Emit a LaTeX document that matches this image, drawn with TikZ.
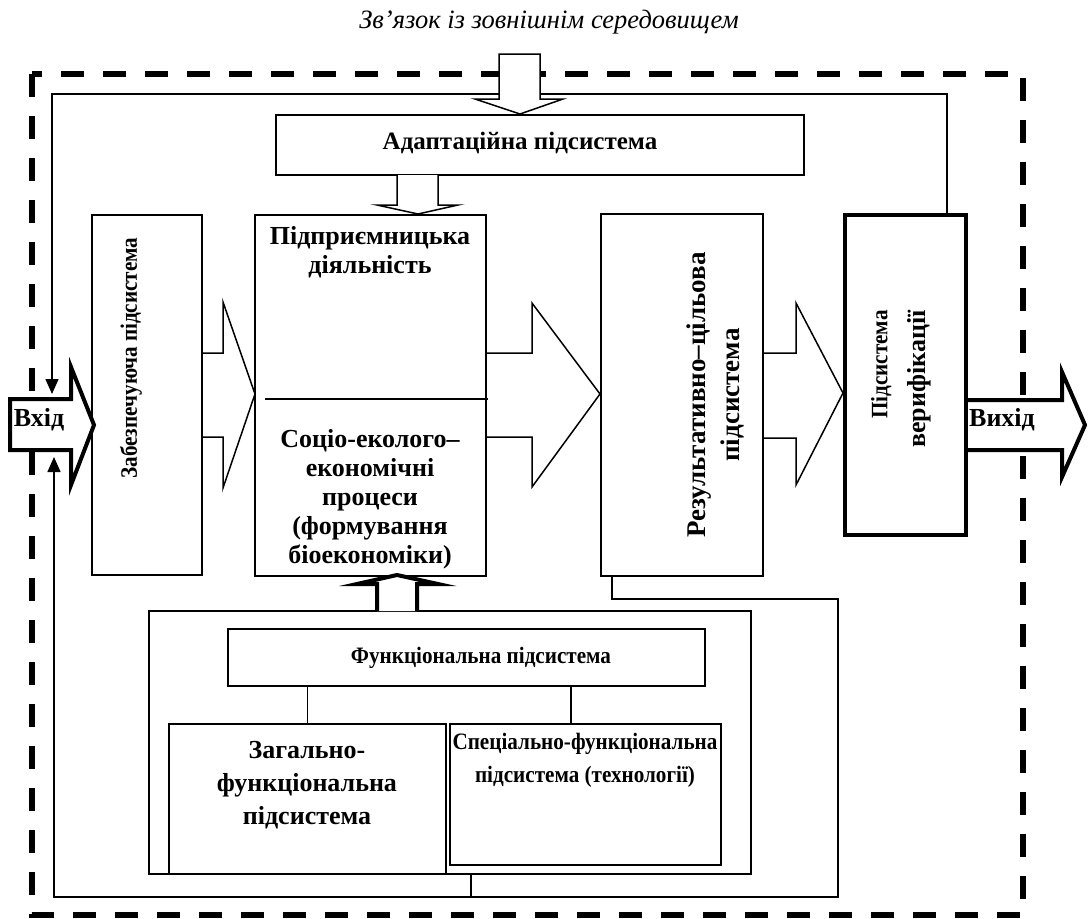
\documentclass[tikz,border=0pt]{standalone}
\usepackage{fontspec}
\usepackage{graphicx}
\setmainfont{Liberation Serif}
\usetikzlibrary{arrows.meta}
\newcommand{\narrowtxt}[1]{\scalebox{0.9}[1]{\bfseries\fontsize{23.5}{29}\selectfont #1}}

\tikzset{
  box/.style={draw, line width=1.5pt, fill=white, inner sep=0pt},
  thickbox/.style={box, line width=4pt},
  lbl/.style={font=\bfseries\fontsize{26}{29}\selectfont, align=center, inner sep=0pt},
  blk/.style={draw, line width=1.5pt, fill=white, line join=miter},
  thickblk/.style={blk, line width=4pt},
  fb/.style={line width=1.5pt, -{Triangle[width=13pt,length=15pt]}},
  env/.style={line width=6pt, dash pattern=on 23pt off 19pt},
}

\begin{document}
\begin{tikzpicture}[x=1pt, y=-1pt]
    \useasboundingbox (0,0) rectangle (1088,919);

    % environment
    \node[font=\itshape\fontsize{26.5}{30}\selectfont, inner sep=0pt] (title) at (549,22) {Зв’язок із зовнішнім середовищем};
    \draw[env] (32,74) rectangle (1023,915);

    % feedback lines
    \coordinate (inA) at (52,394);
    \coordinate (inB) at (54,457);
    \node[thickbox, minimum width=121pt, minimum height=320pt] (verif) at (905.5,375) {};
    \node[box, minimum width=162pt, minimum height=362pt] (rez) at (682,395) {};
    \node[box, minimum width=602pt, minimum height=263pt] (funcout) at (450,742.5) {};
    \draw[fb] ([xshift=41.5pt]verif.north) |- (52,94) -- (inA);
    \draw[fb] ([xshift=-70pt]rez.south) -- ++(0,22) -| (838,897) -| (inB);
    \draw[line width=1.5pt] ([xshift=21pt]funcout.south) -- ++(0,23);

    % block arrows between the main subsystems
    \draw[blk] (202,353) -- (223,353) -- (223,302) -- (255,394) -- (223,488) -- (223,437) -- (202,437);
    \draw[blk] (486,353) -- (532,353) -- (532,303) -- (600,394) -- (532,487) -- (532,437) -- (486,437);
    \draw[blk] (763,353) -- (796,353) -- (796,303) -- (843,393) -- (796,485) -- (796,438) -- (763,438);
    \draw[thickblk] (967,400) -- (1062,400) -- (1062,372) -- (1085,425) -- (1062,477) -- (1062,450) -- (967,450);

    % main row
    \node[box, minimum width=110pt, minimum height=360pt] (zab) at (147,395) {};
    \node[lbl, rotate=90] (zab-txt) at (131,358) {\narrowtxt{Забезпечуюча підсистема}};
    \node[box, minimum width=231pt, minimum height=361pt] (pidpr) at (370.5,395.5) {};
    \node[lbl] (pidpr-txt) at (370,252) {Підприємницька\\діяльність};
    \draw[line width=1.5pt] (265,399) -- (488,399);
    \node[lbl] (socio-txt) at (370,499) {Соціо-еколого–\\економічні\\процеси\\(формування\\біоекономіки)};
    \node[box, minimum width=162pt, minimum height=362pt] (rez) at (682,395) {};
    \node[lbl, font=\bfseries\fontsize{27}{34}\selectfont, rotate=90] (rez-txt) at (715,395) {Результативно–цільова\\підсистема};
    \node[thickbox, minimum width=121pt, minimum height=320pt] (verif) at (905.5,375) {};
    \node[lbl, font=\bfseries\fontsize{26}{38}\selectfont, rotate=90, align=right] (verif-txt) at (901,379) {\narrowtxt{Підсистема}\\верифікації};

    % input
    \draw[thickblk] (10,399) -- (71,399) -- (71,367) -- (94,425) -- (71,485) -- (71,450) -- (10,450) -- cycle;
    \node[lbl] (vhid) at (39,420) {Вхід};
    \node[lbl] (vyhid) at (1002,420) {Вихід};

    % adaptation subsystem
    \draw[blk] (499,54) -- (540,54) -- (540,99) -- (563,99) -- (520,114) -- (475,99) -- (499,99) -- cycle;
    \node[box, minimum width=528pt, minimum height=60pt] (adapt) at (540,145) {};
    \node[lbl, font=\bfseries\fontsize{25}{29}\selectfont] (adapt-txt) at (520,143) {Адаптаційна підсистема};
    \draw[blk] (397,175) -- (397,205) -- (377,205) -- (418,214) -- (458,205) -- (438,205) -- (438,175);

    % functional subsystem
    \node[box, minimum width=602pt, minimum height=263pt] (funcout) at (450,742.5) {};
    \draw[thickblk] (377,611) -- (377,584) -- (357,584) -- (397,575) -- (438,584) -- (417,584) -- (417,611);
    \node[box, minimum width=477pt, minimum height=57pt] (functop) at (466.5,657.5) {};
    \node[lbl] (functop-txt) at (481,658) {\narrowtxt{Функціональна підсистема}};
    \node[box, minimum width=277pt, minimum height=150pt] (zag) at (307.5,799) {};
    \node[lbl, font=\bfseries\fontsize{26}{33}\selectfont] (zag-txt) at (307,785) {Загально-\\функціональна\\підсистема};
    \node[box, minimum width=271pt, minimum height=141pt] (spec) at (585.5,794.5) {};
    \node[lbl, font=\bfseries\fontsize{26}{33}\selectfont] (spec-txt) at (585,760) {\narrowtxt{Спеціально-функціональна}\\\narrowtxt{підсистема (технології)}};
    \draw[line width=1.5pt] (zag.north) -- (zag.north |- functop.south);
    \draw[line width=1.5pt] ([xshift=-14.5pt]spec.north) -- ([xshift=-14.5pt]spec.north |- functop.south);

\end{tikzpicture}
\end{document}
